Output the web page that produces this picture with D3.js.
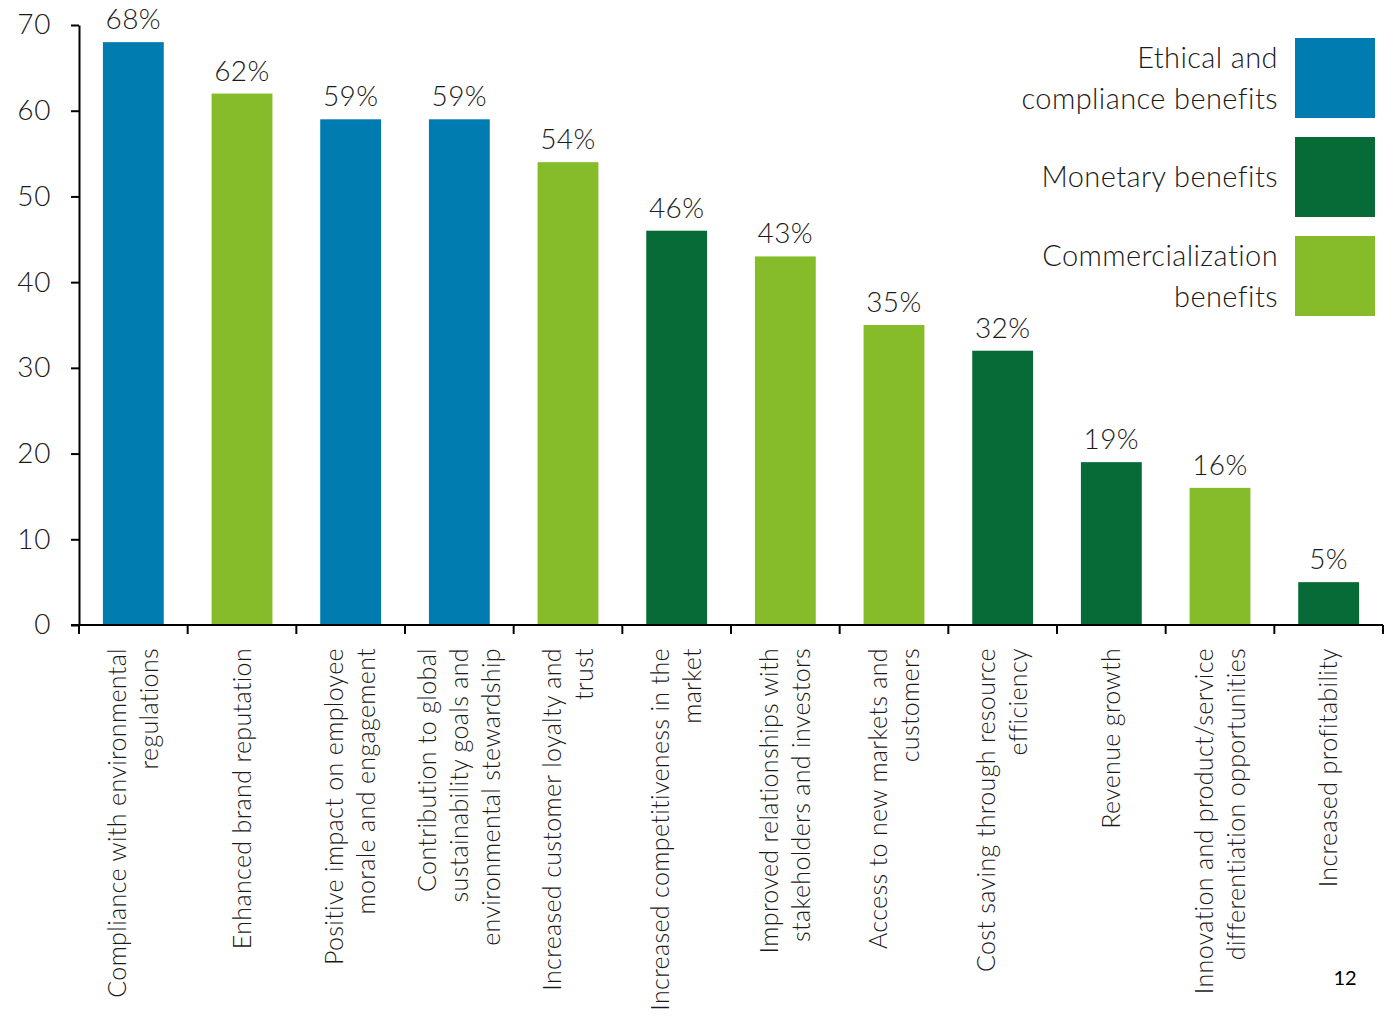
<!DOCTYPE html>
<html>
<head>
<meta charset="utf-8">
<script src="https://cdn.jsdelivr.net/npm/d3@7"></script>
<style>
  body { margin: 0; background: #fff; }
  svg { display: block; font-family: Lato, "Open Sans", sans-serif; font-weight: 300; }
</style>
</head>
<body>
<div id="chart"></div>
<script>
const categories = [
  'Compliance with environmental\nregulations',
  'Enhanced brand reputation',
  'Positive impact on employee\nmorale and engagement',
  'Contribution to global\nsustainability goals and\nenvironmental stewardship',
  'Increased customer loyalty and\ntrust',
  'Increased competitiveness in the\nmarket',
  'Improved relationships with\nstakeholders and investors',
  'Access to new markets and\ncustomers',
  'Cost saving through resource\nefficiency',
  'Revenue growth',
  'Innovation and product/service\ndifferentiation opportunities',
  'Increased profitability'
];
const values = [68, 62, 59, 59, 54, 46, 43, 35, 32, 19, 16, 5];
const groups = ['ethical', 'commercial', 'ethical', 'ethical', 'commercial', 'monetary',
  'commercial', 'commercial', 'monetary', 'monetary', 'commercial', 'monetary'];
const legendKeys = ['ethical', 'monetary', 'commercial'];
const legendLabels = ['Ethical and\ncompliance benefits', 'Monetary benefits', 'Commercialization\nbenefits'];
const yTicks = [0, 10, 20, 30, 40, 50, 60, 70];

const colors = { ethical: '#007CB0', monetary: '#076B38', commercial: '#86BC29' };

const width = 1398, height = 1018;
const margin = { top: 25, left: 79, right: 15, bottom: 393 };

const svg = d3.select('#chart').append('svg')
  .attr('width', width).attr('height', height);

const x = d3.scaleBand()
  .domain(d3.range(categories.length))
  .range([margin.left, width - margin.right])
  .paddingInner(0.44).paddingOuter(0.22);

const y = d3.scaleLinear().domain([0, 70]).range([height - margin.bottom, margin.top]);

// bars
svg.append('g').selectAll('rect')
  .data(values)
  .enter()
  .append('rect')
  .attr('x', (d, i) => x(i))
  .attr('y', d => y(d))
  .attr('width', x.bandwidth())
  .attr('height', d => y(0) - y(d))
  .attr('fill', (d, i) => colors[groups[i]]);

// value labels
svg.append('g').selectAll('text')
  .data(values)
  .enter()
  .append('text')
  .attr('x', (d, i) => x(i) + x.bandwidth() / 2)
  .attr('y', d => y(d) - 13)
  .attr('text-anchor', 'middle')
  .attr('font-size', 28)
  .attr('letter-spacing', 0.4)
  .attr('fill', '#1a1a1a')
  .text(d => d + '%');

// y axis
const yAxis = svg.append('g')
  .attr('transform', `translate(${margin.left},0)`)
  .call(d3.axisLeft(y).tickValues(yTicks).tickSize(8).tickPadding(20).tickSizeOuter(0));
yAxis.select('.domain').attr('stroke', '#000').attr('stroke-width', 2);
yAxis.selectAll('.tick line').attr('stroke', '#000').attr('stroke-width', 2);
yAxis.selectAll('.tick text').attr('font-size', 28).attr('fill', '#1a1a1a')
  .attr('letter-spacing', 0.6)
  .style('font-family', 'Lato, sans-serif').style('font-weight', 300);

// x axis line and boundary ticks
const step = x.step();
const xAxisG = svg.append('g');
xAxisG.append('line')
  .attr('x1', margin.left - 8).attr('x2', width - margin.right)
  .attr('y1', y(0)).attr('y2', y(0))
  .attr('stroke', '#000').attr('stroke-width', 2);
const bounds = d3.range(categories.length + 1)
  .map(i => i === 0 ? margin.left : i === categories.length ? width - margin.right
    : x(i) - x.paddingInner() * step / 2);
xAxisG.selectAll('line.b')
  .data(bounds)
  .enter()
  .append('line')
  .attr('class', 'b')
  .attr('x1', d => d).attr('x2', d => d)
  .attr('y1', y(0)).attr('y2', y(0) + 9)
  .attr('stroke', '#000').attr('stroke-width', 2);

// category labels, rotated
const lineGap = 32;
const catG = svg.append('g').selectAll('g')
  .data(categories)
  .enter()
  .append('g')
  .attr('transform', (d, i) => `translate(${x(i) + x.bandwidth() / 2},${y(0) + 23}) rotate(-90)`);
catG.each(function (d) {
  const lines = d.split('\n');
  const g = d3.select(this);
  lines.forEach((ln, j) => {
    g.append('text')
      .attr('x', 0)
      .attr('y', (j - (lines.length - 1) / 2) * lineGap)
      .attr('dy', '0.35em')
      .attr('text-anchor', 'end')
      .attr('font-size', 25)
      .attr('letter-spacing', 0.35)
      .attr('fill', '#1a1a1a')
      .text(ln);
  });
});

// legend
const legend = svg.append('g').selectAll('g')
  .data(legendKeys)
  .enter()
  .append('g')
  .attr('transform', (d, i) => `translate(1295,${38 + i * 99})`);
legend.append('rect')
  .attr('width', 80).attr('height', 80)
  .attr('fill', d => colors[d]);
legend.each(function (d, i) {
  const lines = legendLabels[i].split('\n');
  const g = d3.select(this);
  lines.forEach((ln, j) => {
    g.append('text')
      .attr('x', -17)
      .attr('y', 40 + (j - (lines.length - 1) / 2) * 41)
      .attr('dy', '0.35em')
      .attr('text-anchor', 'end')
      .attr('font-size', 29)
      .attr('letter-spacing', 0.4)
      .attr('fill', '#1a1a1a')
      .text(ln);
  });
});

// page number
svg.append('text')
  .attr('x', 1345).attr('y', 985)
  .attr('text-anchor', 'middle')
  .attr('font-size', 20)
  .style('font-weight', 400)
  .attr('fill', '#000')
  .text('12');
</script>
</body>
</html>
